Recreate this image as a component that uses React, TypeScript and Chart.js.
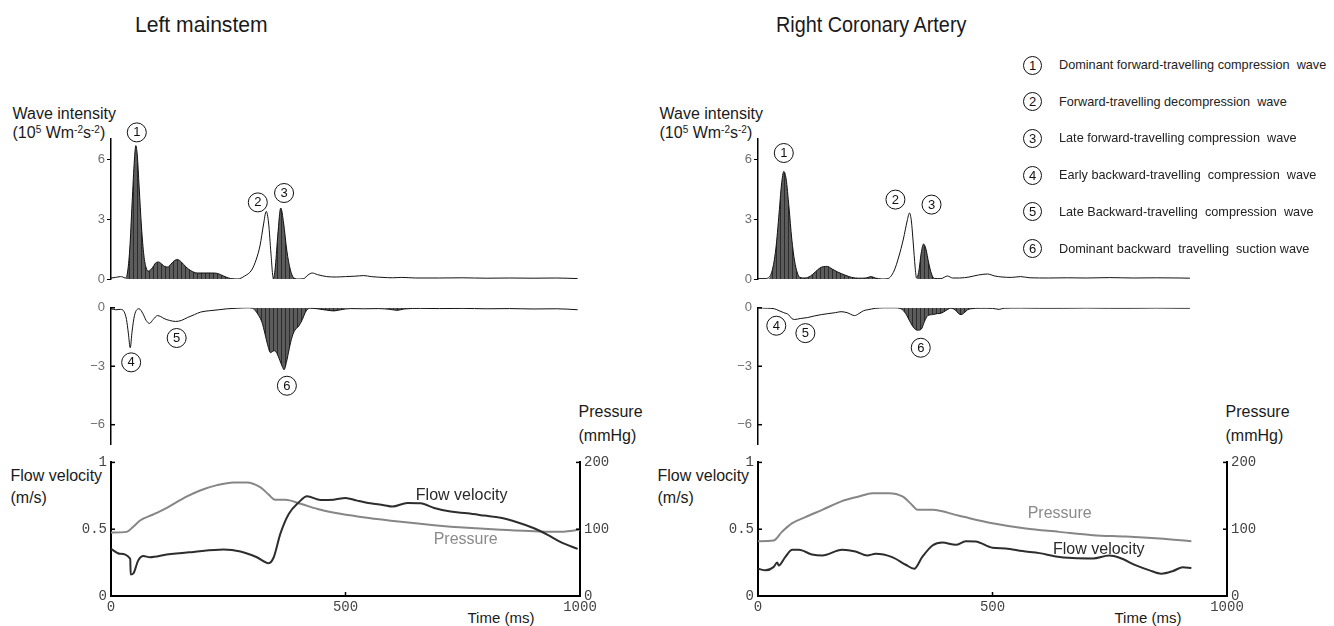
import React, { useEffect, useRef } from "react";
import { Chart, registerables } from "chart.js";
Chart.register(...registerables);

// ---------------- DATA ----------------
const TIME_TICKS = [0, 500, 1000];
const WAVE_FWD_TICKS = [0, 3, 6];
const WAVE_BWD_TICKS = [0, -3, -6];
const FLOW_TICKS = [0, 0.5, 1];
const PRESSURE_TICKS = [0, 100, 200];

// Left mainstem – forward wave intensity (10^5 W m^-2 s^-2)
const LM_FWD_T = [0,10,20,25,30,35,40,45,50,53,56,60,65,70,75,80,88,95,101,108,115,121,128,135,142,150,160,170,184,200,215,227,240,255,270,285,300,310,318,325,331,336,341,346,350,355,362,368,375,382,390,400,411,420,429,440,460,480,500,520,539,555,580,600,620,650,700,750,800,850,900,950,995];
const LM_FWD_V = [0.05,0.08,0.12,0.1,0.05,0.3,1.5,3.8,6.0,6.67,6.2,4.6,2.6,1.2,0.55,0.4,0.55,0.8,0.85,0.75,0.62,0.6,0.75,0.92,0.97,0.85,0.6,0.42,0.3,0.3,0.3,0.28,0.15,0.02,0.0,0.15,0.45,1.0,1.7,2.7,3.38,2.8,1.3,0.05,0.5,2.0,3.55,2.8,1.4,0.5,0.05,0.0,0.02,0.2,0.3,0.22,0.12,0.1,0.12,0.14,0.17,0.12,0.08,0.06,0.08,0.05,0.05,0.06,0.04,0.05,0.04,0.05,0.02];
const LM_FWD_SHADED = [[32, 260], [343, 395]];
const LM_FWD_MARKS = [{ n: 1, t: 55, v: 7.33 }, { n: 2, t: 313, v: 3.83 }, { n: 3, t: 369, v: 4.3 }];

// Left mainstem – backward wave intensity
const LM_BWD_T = [0,10,20,28,33,37,41,45,50,55,60,68,75,82,90,99,106,113,125,138,150,163,178,191,210,230,248,270,290,301,308,315,322,328,334,340,344,348,354,360,365,369,374,380,386,392,400,408,414,418,425,440,460,475,490,510,540,570,595,610,625,660,700,750,800,850,900,950,995];
const LM_BWD_V = [-0.05,-0.1,-0.08,-0.2,-0.6,-1.3,-2.05,-1.2,-0.4,-0.1,-0.05,-0.3,-0.65,-0.8,-0.6,-0.4,-0.45,-0.55,-0.65,-0.7,-0.65,-0.5,-0.35,-0.22,-0.15,-0.1,-0.05,-0.02,0,-0.02,-0.15,-0.4,-0.75,-1.3,-1.9,-2.3,-2.25,-2.2,-2.35,-2.7,-3.0,-3.18,-2.8,-2.1,-1.5,-1.15,-0.95,-0.6,-0.25,-0.1,-0.02,-0.05,-0.12,-0.16,-0.1,-0.04,-0.05,-0.04,-0.08,-0.13,-0.06,-0.03,-0.04,-0.03,-0.05,-0.04,-0.06,-0.05,-0.1];
const LM_BWD_SHADED = [[302, 425], [440, 500], [590, 640]];
const LM_BWD_MARKS = [{ n: 4, t: 43, v: -2.8 }, { n: 5, t: 140, v: -1.55 }, { n: 6, t: 375, v: -4.0 }];

// Left mainstem – flow velocity (m/s) and pressure (mmHg)
const LM_FLOW_T = [0,19,41,42,48,58,69,83,119,176,240,276,311,336,347,361,379,400,418,447,475,500,525,553,582,600,632,660,689,724,760,796,831,866,902,931,959,995];
const LM_FLOW_V = [0.353,0.316,0.279,0.16,0.17,0.266,0.30,0.29,0.31,0.33,0.348,0.333,0.29,0.246,0.29,0.465,0.614,0.70,0.746,0.719,0.721,0.734,0.714,0.694,0.68,0.669,0.697,0.694,0.659,0.632,0.619,0.602,0.585,0.552,0.507,0.458,0.403,0.353];
const LM_PRES_T = [0,33,48,62,90,119,162,190,226,261,290,318,336,350,372,404,447,489,546,618,689,760,831,902,952,1000];
const LM_PRES_V = [95,96,104,113,122,132,149,158,166,170,170,163,152,144,144,138,129,123,117,111,106,102,99,97,96,99];
const LM_CURVE_LABELS = [
  { text: "Flow velocity", t: 650, v: 0.75, color: "#2a2a2a" },
  { text: "Pressure", t: 688, v: 0.423, color: "#8a8a8a" },
];

// Right coronary artery – forward wave intensity
const RCA_FWD_T = [0,15,21,30,38,45,50,55,60,66,72,78,84,89,100,112,122,132,140,148,158,170,185,200,215,230,241,250,265,277,290,300,310,318,323,327,331,335,338,343,348,353,358,364,370,376,390,404,415,430,450,470,489,505,520,540,560,580,620,660,700,750,800,850,900,921];
const RCA_FWD_V = [0.02,0.02,0.05,0.4,1.5,3.3,4.7,5.38,5.0,3.6,2.0,0.9,0.3,0.08,0.05,0.15,0.35,0.55,0.62,0.63,0.5,0.35,0.2,0.08,0.04,0.05,0.12,0.05,0.0,0.02,0.4,1.1,2.0,2.9,3.3,2.9,1.8,0.6,0.05,0.4,1.3,1.75,1.5,0.8,0.25,0.03,0.02,0.15,0.05,0.05,0.1,0.2,0.25,0.15,0.1,0.08,0.12,0.06,0.05,0.06,0.05,0.07,0.05,0.06,0.05,0.04];
const RCA_FWD_SHADED = [[22, 92], [100, 260], [339, 378]];
const RCA_FWD_MARKS = [{ n: 1, t: 55, v: 6.3 }, { n: 2, t: 293, v: 3.97 }, { n: 3, t: 370, v: 3.72 }];

// Right coronary artery – backward wave intensity
const RCA_BWD_T = [0,20,35,45,55,65,72,78,90,106,120,135,149,165,177,190,206,215,225,234,250,270,290,305,315,325,333,340,348,355,362,372,382,390,400,411,420,428,433,440,447,454,475,500,514,525,560,600,650,700,750,800,850,900,921];
const RCA_BWD_V = [0,-0.02,-0.05,-0.15,-0.25,-0.35,-0.55,-0.6,-0.55,-0.5,-0.42,-0.35,-0.3,-0.25,-0.2,-0.25,-0.4,-0.3,-0.15,-0.1,-0.03,0,0,-0.05,-0.3,-0.75,-1.05,-1.15,-1.1,-0.7,-0.4,-0.35,-0.3,-0.28,-0.15,-0.02,-0.1,-0.3,-0.35,-0.25,-0.1,-0.05,-0.02,-0.03,-0.08,-0.02,-0.01,-0.02,-0.02,-0.01,-0.02,-0.02,-0.01,-0.02,-0.02];
const RCA_BWD_SHADED = [[305, 415], [418, 460]];
const RCA_BWD_MARKS = [{ n: 4, t: 39, v: -0.92 }, { n: 5, t: 101, v: -1.3 }, { n: 6, t: 347, v: -2.05 }];

// Right coronary artery – flow velocity and pressure
const RCA_FLOW_T = [0,16,33,41,44,58,73,87,115,137,179,208,233,251,286,315,333,350,372,393,422,443,464,500,528,564,600,635,671,714,749,771,806,835,860,885,906,924];
const RCA_FLOW_V = [0.204,0.192,0.216,0.251,0.229,0.291,0.346,0.346,0.311,0.303,0.346,0.333,0.303,0.316,0.291,0.234,0.204,0.291,0.378,0.40,0.383,0.41,0.408,0.361,0.356,0.336,0.321,0.296,0.284,0.281,0.303,0.286,0.229,0.192,0.167,0.187,0.216,0.209];
const RCA_PRES_T = [0,33,51,73,101,137,179,215,244,279,308,329,340,372,429,500,571,642,714,785,856,924];
const RCA_PRES_V = [82,83,96,109,118,129,142,149,154,154,149,136,129,129,120,109,101,96,91,89,86,82];
const RCA_CURVE_LABELS = [
  { text: "Pressure", t: 575, v: 0.617, color: "#8a8a8a" },
  { text: "Flow velocity", t: 629, v: 0.348, color: "#2a2a2a" },
];

const LEGEND_ITEMS = [
  "Dominant forward-travelling compression  wave",
  "Forward-travelling decompression  wave",
  "Late forward-travelling compression  wave",
  "Early backward-travelling  compression  wave",
  "Late Backward-travelling  compression  wave",
  "Dominant backward  travelling  suction wave",
];

// ---------------- HELPERS ----------------
const SANS = '"Liberation Sans", Arial, Helvetica, sans-serif';
const MONO = '"Liberation Mono", "Courier New", monospace';

function pts(t: number[], v: number[]) {
  const n = Math.min(t.length, v.length);
  const out: { x: number; y: number }[] = [];
  for (let i = 0; i < n; i++) out.push({ x: t[i], y: v[i] });
  return out;
}
function shadedPts(t: number[], v: number[], ranges: number[][]) {
  return pts(t, v).map((p) => ({ x: p.x, y: ranges.some(([a, b]) => p.x >= a && p.x <= b) ? p.y : 0 }));
}
function makeHatch(): any {
  const c = document.createElement("canvas");
  c.width = 4; c.height = 4;
  const g = c.getContext("2d")!;
  g.fillStyle = "#5c5c5c"; g.fillRect(0, 0, 4, 4);
  g.fillStyle = "#2c2c2c"; g.fillRect(0, 0, 1, 4);
  return g.createPattern(c, "repeat");
}
const tickList = (arr: number[]) => (s: any) => { s.ticks = arr.map((v) => ({ value: v })); };

const inwardTicks = {
  id: "inwardTicks",
  afterDraw(chart: any, _a: any, opts: any) {
    const ctx = chart.ctx;
    const len = opts.length ?? 4;
    ctx.save();
    ctx.strokeStyle = "#000";
    ctx.lineWidth = opts.width ?? 1.5;
    for (const id of opts.scales ?? []) {
      const s = chart.scales[id];
      if (!s) continue;
      for (const t of s.ticks) {
        const p = s.getPixelForValue(t.value);
        ctx.beginPath();
        if (s.isHorizontal()) {
          const y = s.position === "top" ? s.bottom : s.top;
          const dir = s.position === "top" ? 1 : -1;
          ctx.moveTo(p, y); ctx.lineTo(p, y + dir * len);
        } else {
          const x = s.position === "left" ? s.right : s.left;
          const dir = s.position === "left" ? 1 : -1;
          ctx.moveTo(x, p); ctx.lineTo(x + dir * len, p);
        }
        ctx.stroke();
      }
    }
    ctx.restore();
  },
};

const circleMarks = {
  id: "circleMarks",
  afterDraw(chart: any, _a: any, opts: any) {
    const items = opts.items || [];
    const ctx = chart.ctx;
    const xs = chart.scales.x, ys = chart.scales.y;
    ctx.save();
    for (const it of items) {
      const px = xs.getPixelForValue(it.t), py = ys.getPixelForValue(it.v);
      ctx.beginPath();
      ctx.arc(px, py, 9.5, 0, Math.PI * 2);
      ctx.fillStyle = "#fff"; ctx.fill();
      ctx.strokeStyle = "#111"; ctx.lineWidth = 1; ctx.stroke();
      ctx.fillStyle = "#111";
      ctx.font = `13px ${SANS}`;
      ctx.textAlign = "center"; ctx.textBaseline = "middle";
      ctx.fillText(String(it.n), px, py + 0.5);
    }
    ctx.restore();
  },
};

const curveLabels = {
  id: "curveLabels",
  afterDraw(chart: any, _a: any, opts: any) {
    const items = opts.items || [];
    const ctx = chart.ctx;
    const xs = chart.scales.x, ys = chart.scales.y;
    ctx.save();
    ctx.font = `16px ${SANS}`;
    ctx.textAlign = "left"; ctx.textBaseline = "middle";
    for (const it of items) {
      ctx.fillStyle = it.color;
      ctx.fillText(it.text, xs.getPixelForValue(it.t), ys.getPixelForValue(it.v));
    }
    ctx.restore();
  },
};

const baseOpts = () => ({
  animation: false,
  responsive: false,
  devicePixelRatio: 1,
  events: [],
});

function waveConfig(fwd: boolean, t: number[], v: number[], ranges: number[][], marks: any[]) {
  return {
    type: "line",
    data: {
      datasets: [
        { data: pts(t, v), borderColor: "#111", borderWidth: 1, pointRadius: 0, fill: false, cubicInterpolationMode: "monotone" },
        { data: shadedPts(t, v, ranges), borderWidth: 0, borderColor: "rgba(0,0,0,0)", backgroundColor: makeHatch(), pointRadius: 0, fill: "origin", cubicInterpolationMode: "monotone" },
      ],
    },
    options: {
      ...baseOpts(),
      plugins: {
        legend: { display: false },
        tooltip: { enabled: false },
        circleMarks: { items: marks },
        inwardTicks: { scales: fwd ? [] : ["y"], width: 1.5, length: 4 },
      },
      scales: {
        x: {
          type: "linear", min: 0, max: 1000, position: fwd ? "bottom" : "top",
          ticks: { display: false }, grid: { display: false, drawTicks: false }, border: { display: false },
          afterFit: (s: any) => { s.height = 0; },
        },
        y: {
          type: "linear", min: fwd ? 0 : -7, max: fwd ? 7 : 0,
          afterBuildTicks: tickList(fwd ? WAVE_FWD_TICKS : WAVE_BWD_TICKS),
          ticks: {
            font: { family: SANS, size: 13 }, color: "#6e6e6e", padding: fwd ? 2 : 6,
            callback: (val: any) => (val < 0 ? "\u2212" + Math.abs(val) : String(val)),
          },
          grid: { drawOnChartArea: false, drawTicks: fwd, tickLength: 4, color: "#000", lineWidth: 1 },
          border: { display: true, color: "#000", width: 1.5 },
          afterFit: (s: any) => { s.width = 30; },
        },
      },
    },
    plugins: [circleMarks, inwardTicks],
  };
}

function flowConfig(ft: number[], fv: number[], pt: number[], pv: number[], labels: any[]) {
  const monoTicks = { font: { family: MONO, size: 14 }, color: "#444", autoSkip: false, maxRotation: 0, callback: (v: any) => String(v) };
  const noGrid = { drawOnChartArea: false, drawTicks: false };
  const border = { display: true, color: "#000", width: 2 };
  return {
    type: "line",
    data: {
      datasets: [
        { data: pts(ft, fv), yAxisID: "y", borderColor: "#2d2d2d", borderWidth: 2, pointRadius: 0, fill: false, cubicInterpolationMode: "monotone" },
        { data: pts(pt, pv), yAxisID: "y1", borderColor: "#868686", borderWidth: 2, pointRadius: 0, fill: false, cubicInterpolationMode: "monotone" },
      ],
    },
    options: {
      ...baseOpts(),
      plugins: {
        legend: { display: false },
        tooltip: { enabled: false },
        inwardTicks: { scales: ["x", "y", "y1"], width: 1.5, length: 4 },
        curveLabels: { items: labels },
      },
      scales: {
        x: {
          type: "linear", min: 0, max: 1000, position: "bottom",
          afterBuildTicks: tickList(TIME_TICKS),
          ticks: { ...monoTicks, padding: 3 },
          grid: noGrid, border,
          afterFit: (s: any) => { s.height = 24; },
        },
        y: {
          type: "linear", position: "left", min: 0, max: 1,
          afterBuildTicks: tickList(FLOW_TICKS),
          ticks: { ...monoTicks, padding: 4 },
          grid: noGrid, border,
          afterFit: (s: any) => { s.width = 36; },
        },
        y1: {
          type: "linear", position: "right", min: 0, max: 200,
          afterBuildTicks: tickList(PRESSURE_TICKS),
          ticks: { ...monoTicks, padding: 4 },
          grid: noGrid, border,
          afterFit: (s: any) => { s.width = 40; },
        },
      },
    },
    plugins: [inwardTicks, curveLabels],
  };
}

type Plot = { x: number; y: number; w: number; h: number };
type Pad = { l: number; r: number; t: number; b: number; axL: number; axR: number; axB: number };

function ChartCanvas({ plot, pad, make }: { plot: Plot; pad: Pad; make: () => any }) {
  const ref = useRef<HTMLCanvasElement>(null);
  const left = plot.x - pad.l - pad.axL;
  const top = plot.y - pad.t;
  const width = Math.round(plot.w + pad.l + pad.r + pad.axL + pad.axR);
  const height = Math.round(plot.h + pad.t + pad.b + pad.axB);
  useEffect(() => {
    const cfg = make();
    cfg.options.layout = { padding: { left: pad.l, right: pad.r, top: pad.t, bottom: pad.b } };
    const ch = new Chart(ref.current as HTMLCanvasElement, cfg);
    return () => ch.destroy();
  }, []);
  return (
    <canvas
      ref={ref}
      width={width}
      height={height}
      style={{ position: "absolute", left, top, width, height }}
    />
  );
}

function Txt({ x, y, children, size = 16, color = "#1a1a1a", family = SANS, sx = 1 }: any) {
  return (
    <div
      style={{
        position: "absolute", left: x, top: y,
        transform: `translateY(-50%) scaleX(${sx})`, transformOrigin: "left center",
        fontFamily: family, fontSize: size, color, whiteSpace: "pre", lineHeight: 1,
      }}
    >
      {children}
    </div>
  );
}

function Circ({ cx, cy, n }: any) {
  return (
    <div
      style={{
        position: "absolute", left: cx - 9.5, top: cy - 9.5, width: 19, height: 19,
        boxSizing: "border-box", border: "1px solid #111", borderRadius: "50%",
        fontFamily: SANS, fontSize: 13, lineHeight: "17px", textAlign: "center", color: "#111",
      }}
    >
      {n}
    </div>
  );
}

const WI_LABEL = (
  <span>
    (10<sup style={{ fontSize: 10, verticalAlign: 5 }}>5</sup> Wm<sup style={{ fontSize: 10, verticalAlign: 5 }}>-2</sup>s
    <sup style={{ fontSize: 10, verticalAlign: 5 }}>-2</sup>)
  </span>
);

function Panel({ x0, fwd, bwd, flow, title, titleX, titleSx }: any) {
  const W = 469;
  const fwdPlot = { x: x0, y: 139.3, w: W, h: 140 };
  const bwdPlot = { x: x0, y: 305.7, w: W, h: 140 };
  const flowPlot = { x: x0, y: 461.7, w: W, h: 134 };
  return (
    <>
      <Txt x={titleX} y={25} size={22} sx={titleSx}>{title}</Txt>
      <Txt x={x0 - 98} y={114}>Wave intensity</Txt>
      <Txt x={x0 - 98} y={133}>{WI_LABEL}</Txt>
      <Txt x={x0 - 100} y={476}>Flow velocity</Txt>
      <Txt x={x0 - 100} y={498}>(m/s)</Txt>
      <Txt x={x0 + W - 1} y={412}>Pressure</Txt>
      <Txt x={x0 + W - 1} y={436}>(mmHg)</Txt>
      <Txt x={x0 + 357} y={617} size={15}>Time (ms)</Txt>
      <ChartCanvas plot={fwdPlot} pad={{ l: 12, r: 12, t: 24, b: 12, axL: 30, axR: 0, axB: 0 }} make={fwd} />
      <ChartCanvas plot={bwdPlot} pad={{ l: 12, r: 12, t: 12, b: 12, axL: 30, axR: 0, axB: 0 }} make={bwd} />
      <ChartCanvas plot={flowPlot} pad={{ l: 12, r: 12, t: 12, b: 4, axL: 36, axR: 40, axB: 24 }} make={flow} />
    </>
  );
}

export default function App() {
  return (
    <div
      style={{
        position: "absolute", left: 0, top: 0, width: 1334, height: 626,
        background: "#fff", overflow: "hidden",
      }}
    >
      <Panel
        x0={110.5}
        title="Left mainstem"
        titleX={135}
        titleSx={0.96}
        fwd={() => waveConfig(true, LM_FWD_T, LM_FWD_V, LM_FWD_SHADED, LM_FWD_MARKS)}
        bwd={() => waveConfig(false, LM_BWD_T, LM_BWD_V, LM_BWD_SHADED, LM_BWD_MARKS)}
        flow={() => flowConfig(LM_FLOW_T, LM_FLOW_V, LM_PRES_T, LM_PRES_V, LM_CURVE_LABELS)}
      />
      <Panel
        x0={757.5}
        title="Right Coronary Artery"
        titleX={776}
        titleSx={0.9}
        fwd={() => waveConfig(true, RCA_FWD_T, RCA_FWD_V, RCA_FWD_SHADED, RCA_FWD_MARKS)}
        bwd={() => waveConfig(false, RCA_BWD_T, RCA_BWD_V, RCA_BWD_SHADED, RCA_BWD_MARKS)}
        flow={() => flowConfig(RCA_FLOW_T, RCA_FLOW_V, RCA_PRES_T, RCA_PRES_V, RCA_CURVE_LABELS)}
      />
      {LEGEND_ITEMS.map((txt, i) => (
        <React.Fragment key={i}>
          <Circ cx={1032.7} cy={65 + i * 36.7} n={i + 1} />
          <Txt x={1059} y={65 + i * 36.7} size={12.7} color="#222">{txt}</Txt>
        </React.Fragment>
      ))}
    </div>
  );
}
